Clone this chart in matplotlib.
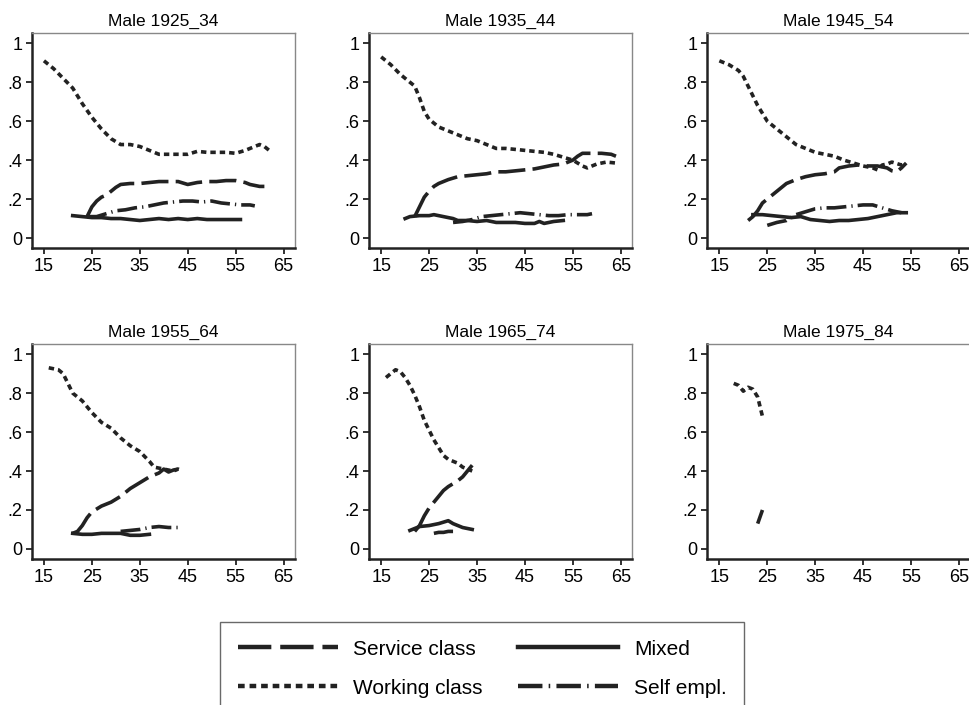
import matplotlib.pyplot as plt
from matplotlib.lines import Line2D

plt.rcParams['font.family'] = ['Liberation Sans', 'DejaVu Sans']

# Titulos dos paineis (coortes)
cohorts = ['Male 1925_34', 'Male 1935_44', 'Male 1945_54',
           'Male 1955_64', 'Male 1965_74', 'Male 1975_84']

# --- Male 1925_34 ---
c1_work_age = [15, 17, 19, 21, 23, 25, 27, 29, 31, 33, 35, 37, 39, 41, 43, 45, 47, 49, 51, 53, 55, 57, 59, 60, 61, 62]
c1_work = [0.91, 0.87, 0.82, 0.77, 0.69, 0.62, 0.56, 0.51, 0.48, 0.48, 0.47, 0.45, 0.43, 0.43, 0.43, 0.43, 0.445, 0.44, 0.44, 0.44, 0.435, 0.45, 0.47, 0.48, 0.47, 0.45]
c1_serv_age = [24, 25, 26, 27, 28, 29, 30, 31, 33, 35, 37, 39, 41, 43, 45, 47, 49, 51, 53, 55, 57, 58, 60, 61]
c1_serv = [0.11, 0.16, 0.19, 0.21, 0.22, 0.24, 0.26, 0.275, 0.28, 0.28, 0.285, 0.29, 0.29, 0.29, 0.275, 0.285, 0.29, 0.29, 0.295, 0.295, 0.285, 0.275, 0.265, 0.265]
c1_self_age = [24, 26, 28, 30, 32, 34, 36, 38, 40, 42, 44, 46, 48, 50, 52, 54, 56, 58, 59]
c1_self = [0.11, 0.11, 0.125, 0.14, 0.145, 0.155, 0.16, 0.17, 0.18, 0.185, 0.19, 0.19, 0.185, 0.19, 0.18, 0.175, 0.17, 0.17, 0.165]
c1_mix_age = [21, 23, 25, 27, 29, 31, 33, 35, 37, 39, 41, 43, 45, 47, 49, 51, 53, 56]
c1_mix = [0.115, 0.11, 0.105, 0.105, 0.1, 0.1, 0.095, 0.09, 0.095, 0.1, 0.095, 0.1, 0.095, 0.1, 0.095, 0.095, 0.095, 0.095]

# --- Male 1935_44 ---
c2_work_age = [15, 17, 19, 21, 22, 23, 24, 25, 27, 29, 31, 33, 35, 37, 39, 41, 43, 45, 47, 49, 51, 53, 55, 57, 58, 60, 62, 64]
c2_work = [0.93, 0.89, 0.84, 0.8, 0.78, 0.72, 0.65, 0.61, 0.57, 0.55, 0.53, 0.51, 0.5, 0.48, 0.46, 0.46, 0.455, 0.45, 0.445, 0.44, 0.43, 0.415, 0.4, 0.37, 0.36, 0.38, 0.39, 0.385]
c2_serv_age = [22, 23, 24, 25, 26, 27, 28, 29, 31, 33, 35, 37, 39, 41, 43, 45, 47, 49, 51, 53, 55, 56, 57, 59, 61, 63, 64]
c2_serv = [0.11, 0.16, 0.21, 0.24, 0.265, 0.28, 0.29, 0.3, 0.315, 0.32, 0.325, 0.33, 0.34, 0.34, 0.345, 0.35, 0.355, 0.365, 0.375, 0.38, 0.4, 0.42, 0.435, 0.435, 0.435, 0.43, 0.42]
c2_self_age = [30, 32, 34, 36, 38, 40, 42, 44, 46, 48, 50, 52, 54, 56, 58, 59]
c2_self = [0.08, 0.085, 0.095, 0.11, 0.115, 0.12, 0.125, 0.13, 0.125, 0.12, 0.115, 0.115, 0.12, 0.12, 0.12, 0.125]
c2_mix_age = [20, 21, 23, 25, 26, 28, 30, 31, 33, 35, 37, 39, 41, 43, 45, 47, 48, 49, 51, 53]
c2_mix = [0.1, 0.11, 0.115, 0.115, 0.12, 0.11, 0.1, 0.09, 0.09, 0.085, 0.09, 0.08, 0.08, 0.08, 0.075, 0.075, 0.085, 0.075, 0.085, 0.09]

# --- Male 1945_54 ---
c3_work_age = [15, 17, 19, 20, 21, 22, 23, 24, 25, 27, 29, 31, 33, 35, 37, 39, 41, 43, 45, 47, 48, 49, 50, 51, 53, 54]
c3_work = [0.91, 0.89, 0.86, 0.83, 0.78, 0.73, 0.68, 0.64, 0.6, 0.56, 0.52, 0.48, 0.46, 0.44, 0.43, 0.42, 0.4, 0.385, 0.37, 0.36, 0.35, 0.375, 0.38, 0.39, 0.375, 0.385]
c3_serv_age = [21, 22, 23, 24, 25, 27, 29, 31, 33, 35, 37, 39, 40, 42, 44, 46, 48, 50, 51, 52, 53, 54]
c3_serv = [0.09, 0.11, 0.14, 0.18, 0.2, 0.24, 0.28, 0.3, 0.315, 0.325, 0.33, 0.34, 0.36, 0.37, 0.375, 0.37, 0.37, 0.36, 0.345, 0.34, 0.36, 0.385]
c3_self_age = [25, 27, 29, 31, 33, 35, 37, 39, 41, 43, 45, 47, 49, 51, 53]
c3_self = [0.065, 0.08, 0.09, 0.12, 0.135, 0.15, 0.155, 0.155, 0.16, 0.165, 0.17, 0.17, 0.155, 0.14, 0.13]
c3_mix_age = [22, 24, 26, 28, 30, 32, 34, 36, 38, 40, 42, 44, 46, 48, 50, 52, 54]
c3_mix = [0.12, 0.12, 0.115, 0.11, 0.105, 0.11, 0.095, 0.09, 0.085, 0.09, 0.09, 0.095, 0.1, 0.11, 0.12, 0.13, 0.13]

# --- Male 1955_64 ---
c4_work_age = [16, 18, 19, 20, 21, 23, 25, 27, 29, 31, 33, 35, 37, 38, 40, 42, 43]
c4_work = [0.93, 0.92, 0.9, 0.85, 0.8, 0.76, 0.7, 0.65, 0.62, 0.57, 0.53, 0.5, 0.45, 0.42, 0.41, 0.4, 0.41]
c4_serv_age = [21, 22, 23, 24, 25, 27, 29, 31, 33, 35, 37, 39, 40, 41, 42, 43, 44]
c4_serv = [0.08, 0.09, 0.12, 0.16, 0.19, 0.22, 0.24, 0.27, 0.31, 0.34, 0.37, 0.39, 0.41, 0.395, 0.405, 0.41, 0.4]
c4_self_age = [31, 33, 35, 37, 39, 41, 43]
c4_self = [0.09, 0.095, 0.1, 0.11, 0.115, 0.11, 0.11]
c4_mix_age = [21, 23, 25, 27, 29, 31, 33, 35, 37]
c4_mix = [0.08, 0.075, 0.075, 0.08, 0.08, 0.08, 0.07, 0.07, 0.075]

# --- Male 1965_74 ---
c5_work_age = [16, 17, 18, 19, 20, 21, 22, 23, 24, 25, 26, 27, 28, 29, 30, 31, 32, 33, 34]
c5_work = [0.88, 0.9, 0.92, 0.91, 0.88, 0.84, 0.79, 0.73, 0.66, 0.61, 0.56, 0.52, 0.48, 0.46, 0.45, 0.44, 0.42, 0.41, 0.4]
c5_serv_age = [22, 23, 24, 25, 26, 27, 28, 29, 30, 31, 32, 33, 34]
c5_serv = [0.09, 0.12, 0.17, 0.21, 0.24, 0.27, 0.3, 0.32, 0.335, 0.35, 0.37, 0.4, 0.43]
c5_self_age = [26, 27, 28, 29, 30]
c5_self = [0.08, 0.085, 0.085, 0.09, 0.09]
c5_mix_age = [21, 22, 23, 25, 27, 29, 30, 32, 34]
c5_mix = [0.095, 0.105, 0.115, 0.12, 0.13, 0.145, 0.13, 0.11, 0.1]

# --- Male 1975_84 ---
c6_work_age = [18, 19, 20, 21, 22, 23, 24]
c6_work = [0.85, 0.84, 0.81, 0.83, 0.82, 0.78, 0.68]
c6_serv_age = [23, 24]
c6_serv = [0.13, 0.2]
c6_self_age = []
c6_self = []
c6_mix_age = []
c6_mix = []

paineis = [
    (c1_serv_age, c1_serv, c1_work_age, c1_work, c1_mix_age, c1_mix, c1_self_age, c1_self),
    (c2_serv_age, c2_serv, c2_work_age, c2_work, c2_mix_age, c2_mix, c2_self_age, c2_self),
    (c3_serv_age, c3_serv, c3_work_age, c3_work, c3_mix_age, c3_mix, c3_self_age, c3_self),
    (c4_serv_age, c4_serv, c4_work_age, c4_work, c4_mix_age, c4_mix, c4_self_age, c4_self),
    (c5_serv_age, c5_serv, c5_work_age, c5_work, c5_mix_age, c5_mix, c5_self_age, c5_self),
    (c6_serv_age, c6_serv, c6_work_age, c6_work, c6_mix_age, c6_mix, c6_self_age, c6_self),
]

x_ticks = [15, 25, 35, 45, 55, 65]
y_ticks = [0, 0.2, 0.4, 0.6, 0.8, 1]
y_labels = ['0', '.2', '.4', '.6', '.8', '1']

cor = '#222222'
lw = 2.6
estilos = {
    'Service class': (0, (7.5, 2.0)),
    'Working class': (0, (1.5, 1.1)),
    'Mixed': '-',
    'Self empl.': (0, (5.5, 1.4, 0.35, 1.4)),
}

fig = plt.figure(figsize=(9.69, 7.05), dpi=100)

# posicoes dos eixos em fracao da figura
lefts = [0.033, 0.381, 0.730]
bottoms = [0.648, 0.207]
largura = 0.271
altura = 0.305

for i, dados in enumerate(paineis):
    linha, coluna = divmod(i, 3)
    ax = fig.add_axes([lefts[coluna], bottoms[linha], largura, altura])
    sa, sv, wa, wv, ma, mv, ea, ev = dados
    ax.plot(wa, wv, color=cor, lw=lw, linestyle=estilos['Working class'])
    ax.plot(sa, sv, color=cor, lw=lw, linestyle=estilos['Service class'])
    ax.plot(ea, ev, color=cor, lw=lw, linestyle=estilos['Self empl.'])
    ax.plot(ma, mv, color=cor, lw=lw, linestyle=estilos['Mixed'])

    ax.set_xlim(12.5, 67.3)
    ax.set_ylim(-0.052, 1.052)
    ax.set_xticks(x_ticks)
    ax.set_yticks(y_ticks)
    ax.set_yticklabels(y_labels)
    ax.tick_params(labelsize=13, length=4, width=1.3, color='#222222', pad=3)
    ax.set_title(cohorts[i], fontsize=12.5, pad=5)
    for lado in ['left', 'bottom']:
        ax.spines[lado].set_linewidth(1.8)
        ax.spines[lado].set_color('#222222')
    for lado in ['top', 'right']:
        ax.spines[lado].set_linewidth(1.0)
        ax.spines[lado].set_color('#888888')

# Legenda
handles = [Line2D([0], [0], color=cor, lw=3.2, linestyle=estilos[k]) for k in
           ['Service class', 'Working class', 'Mixed', 'Self empl.']]
labels = ['Service class', 'Working class', 'Mixed', 'Self empl.']
leg = fig.legend(handles, labels, ncol=2, loc='upper left',
                 bbox_to_anchor=(220 / 969, 1 - 622 / 705),
                 fontsize=15, handlelength=4.8, handletextpad=0.75,
                 columnspacing=1.7, labelspacing=0.95, borderpad=0.85,
                 borderaxespad=0, fancybox=False, frameon=True)
leg.get_frame().set_edgecolor('#444444')
leg.get_frame().set_linewidth(1.0)

fig.savefig('out.png', dpi=100)
